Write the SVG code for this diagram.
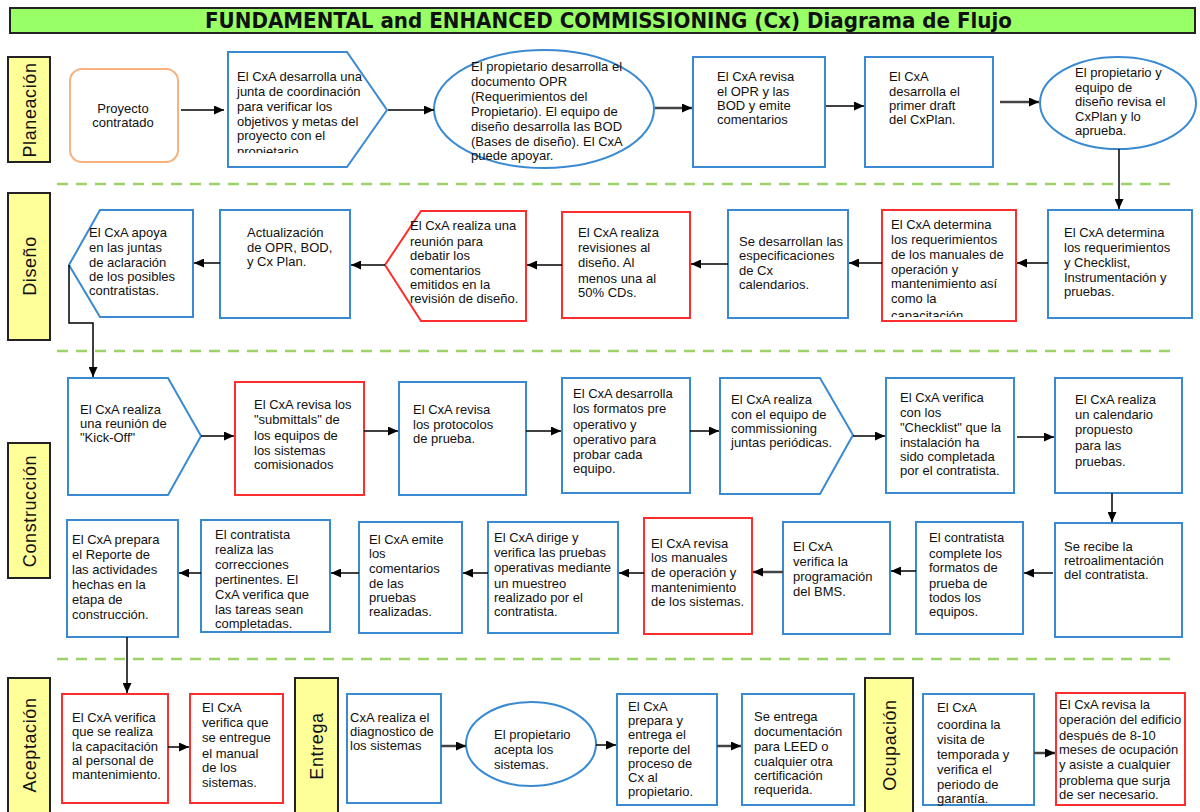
<svg xmlns="http://www.w3.org/2000/svg" width="1200" height="812" viewBox="0 0 1200 812">
<style>
.b{fill:#fff;stroke:#3a8ad2;stroke-width:2}
.r{fill:#fff;stroke:#ff2e2e;stroke-width:2}
.o{fill:#fff;stroke:#f7b27e;stroke-width:2}
.lane{fill:#ffff99;stroke:#222;stroke-width:2}
.lt{font-family:"Liberation Sans",Arial,sans-serif;font-size:18px;fill:#111;text-anchor:middle;letter-spacing:0.6px}
.t{font-family:"Liberation Sans",Arial,sans-serif;font-size:13px;fill:#111}
.c{fill:none;stroke:#000;stroke-width:1.5;marker-end:url(#ah)}
.c2{fill:none;stroke:#444;stroke-width:2.5;marker-end:url(#ah)}
.dash{stroke:#9dd16a;stroke-width:2.5;stroke-dasharray:11 8}
</style>
<defs>
<marker id="ah" markerUnits="userSpaceOnUse" markerWidth="10" markerHeight="9" refX="10" refY="4.5" orient="auto"><path d="M0,0 L10,4.5 L0,9 z" fill="#000"/></marker>
<clipPath id="clip1"><rect x="228" y="52" width="160" height="101"/></clipPath>
<clipPath id="clip2"><rect x="882" y="210" width="134" height="107"/></clipPath>
</defs>
<rect width="1200" height="812" fill="#fff"/>
<g id="title">
<rect x="10" y="8" width="1185" height="25" fill="#99ff66" stroke="#222" stroke-width="2"/>
<text x="205" y="28" font-family="'DejaVu Sans',Tahoma,sans-serif" font-size="21" font-weight="bold" fill="#111" textLength="807" lengthAdjust="spacingAndGlyphs">FUNDAMENTAL and ENHANCED COMMISSIONING (Cx) Diagrama de Flujo</text>
</g>
<g id="separators">
<line class="dash" x1="57" y1="184" x2="1176" y2="184"/>
<line class="dash" x1="57" y1="351" x2="1176" y2="351"/>
<line class="dash" x1="57" y1="659" x2="1176" y2="659"/>
</g>
<g id="lane-planeacion"><rect class="lane" x="8" y="57" width="42" height="105"/><text class="lt" transform="translate(35.5,110) rotate(-90)">Planeación</text></g>
<g id="lane-diseno"><rect class="lane" x="8" y="193" width="42" height="147"/><text class="lt" transform="translate(35.5,266) rotate(-90)">Diseño</text></g>
<g id="lane-construccion"><rect class="lane" x="8" y="443" width="42" height="135"/><text class="lt" transform="translate(35.5,511) rotate(-90)">Construcción</text></g>
<g id="lane-aceptacion"><rect class="lane" x="8" y="678" width="42" height="150"/><text class="lt" transform="translate(35.5,745) rotate(-90)">Aceptación</text></g>
<g id="lane-entrega"><rect class="lane" x="295" y="678" width="43" height="150"/><text class="lt" transform="translate(323,746) rotate(-90)">Entrega</text></g>
<g id="lane-ocupacion"><rect class="lane" x="865" y="678" width="48" height="150"/><text class="lt" transform="translate(895.5,745) rotate(-90)">Ocupación</text></g>

<g id="n1"><rect class="o" x="70" y="69" width="108" height="93" rx="12"/>
<text class="t" text-anchor="middle"><tspan x="123" y="113">Proyecto</tspan><tspan x="123" y="127">contratado</tspan></text></g>
<g id="n2"><polygon class="b" points="228,52 347,52 387,110 347,167 228,167"/>
<text class="t" clip-path="url(#clip1)"><tspan x="237" y="81">El CxA desarrolla una</tspan><tspan x="237" y="96">junta de coordinación</tspan><tspan x="237" y="111">para verificar los</tspan><tspan x="237" y="126">objetivos y metas del</tspan><tspan x="237" y="140">proyecto con el</tspan><tspan x="237" y="156">propietario</tspan></text></g>
<g id="n3"><ellipse class="b" cx="544" cy="109" rx="110" ry="59"/>
<text class="t"><tspan x="471" y="71">El propietario desarrolla el</tspan><tspan x="471" y="86">documento OPR</tspan><tspan x="471" y="101">(Requerimientos  del</tspan><tspan x="471" y="116">Propietario). El equipo de</tspan><tspan x="471" y="131">diseño desarrolla las BOD</tspan><tspan x="471" y="146">(Bases de diseño). El CxA</tspan><tspan x="471" y="160">puede apoyar.</tspan></text></g>
<g id="n4"><rect class="b" x="693" y="57" width="132" height="110"/>
<text class="t"><tspan x="717" y="81">El CxA revisa</tspan><tspan x="717" y="96">el OPR y las</tspan><tspan x="717" y="110">BOD y emite</tspan><tspan x="717" y="124">comentarios</tspan></text></g>
<g id="n5"><rect class="b" x="865" y="57" width="128" height="110"/>
<text class="t"><tspan x="889" y="81">El CxA</tspan><tspan x="889" y="96">desarrolla el</tspan><tspan x="889" y="110">primer draft</tspan><tspan x="889" y="124">del CxPlan.</tspan></text></g>
<g id="n6"><ellipse class="b" cx="1118" cy="103" rx="78" ry="46"/>
<text class="t"><tspan x="1075" y="77">El propietario y</tspan><tspan x="1075" y="92">equipo de</tspan><tspan x="1075" y="106">diseño revisa el</tspan><tspan x="1075" y="121">CxPlan y lo</tspan><tspan x="1075" y="135">aprueba.</tspan></text></g>

<g id="n7"><rect class="b" x="1048" y="210" width="144" height="108"/>
<text class="t"><tspan x="1064" y="237">El CxA determina</tspan><tspan x="1064" y="252">los requerimientos</tspan><tspan x="1064" y="267">y Checklist,</tspan><tspan x="1064" y="282">Instrumentación y</tspan><tspan x="1064" y="296">pruebas.</tspan></text></g>
<g id="n8"><rect class="r" x="882" y="210" width="134" height="111"/>
<text class="t" clip-path="url(#clip2)"><tspan x="891" y="229">El CxA determina</tspan><tspan x="891" y="244">los requerimientos</tspan><tspan x="891" y="259">de los manuales de</tspan><tspan x="891" y="274">operación y</tspan><tspan x="891" y="288">mantenimiento así</tspan><tspan x="891" y="303">como la</tspan><tspan x="891" y="320">capacitación.</tspan></text></g>
<g id="n9"><rect class="b" x="728" y="210" width="120" height="108"/>
<text class="t"><tspan x="739" y="246">Se desarrollan las</tspan><tspan x="739" y="260">especificaciones</tspan><tspan x="739" y="275">de Cx</tspan><tspan x="739" y="289">calendarios.</tspan></text></g>
<g id="n10"><rect class="r" x="562" y="212" width="128" height="106"/>
<text class="t"><tspan x="578" y="237">El CxA realiza</tspan><tspan x="578" y="252">revisiones al</tspan><tspan x="578" y="267">diseño. Al</tspan><tspan x="578" y="283">menos una al</tspan><tspan x="578" y="297">50% CDs.</tspan></text></g>
<g id="n11"><polygon class="r" points="421,211 526,211 526,321 421,321 385,265"/>
<text class="t"><tspan x="410" y="230">El CxA realiza una</tspan><tspan x="410" y="246">reunión para</tspan><tspan x="410" y="260">debatir los</tspan><tspan x="410" y="275">comentarios</tspan><tspan x="410" y="289">emitidos en la</tspan><tspan x="410" y="303">revisión de diseño.</tspan></text></g>
<g id="n12"><rect class="b" x="220" y="210" width="130" height="108"/>
<text class="t"><tspan x="247" y="237">Actualización</tspan><tspan x="247" y="252">de OPR, BOD,</tspan><tspan x="247" y="266">y Cx Plan.</tspan></text></g>
<g id="n13"><polygon class="b" points="100,210 193,210 193,317 100,317 69,265"/>
<text class="t"><tspan x="89" y="237">El CxA apoya</tspan><tspan x="89" y="252">en  las juntas</tspan><tspan x="89" y="267">de aclaración</tspan><tspan x="89" y="281">de  los posibles</tspan><tspan x="89" y="295">contratistas.</tspan></text></g>

<g id="n14"><polygon class="b" points="68,378 168,378 201,436 168,495 68,495"/>
<text class="t"><tspan x="80" y="414">El CxA realiza</tspan><tspan x="80" y="428">una reunión de</tspan><tspan x="80" y="442">"Kick-Off"</tspan></text></g>
<g id="n15"><rect class="r" x="235" y="382" width="129" height="113"/>
<text class="t"><tspan x="254" y="409">El CxA  revisa los</tspan><tspan x="254" y="424">"submittals" de</tspan><tspan x="254" y="440">los equipos de</tspan><tspan x="254" y="455">los sistemas</tspan><tspan x="254" y="469">comisionados</tspan></text></g>
<g id="n16"><rect class="b" x="399" y="382" width="127" height="113"/>
<text class="t"><tspan x="413" y="414">El CxA revisa</tspan><tspan x="413" y="429">los protocolos</tspan><tspan x="413" y="443">de prueba.</tspan></text></g>
<g id="n17"><rect class="b" x="562" y="378" width="128" height="115"/>
<text class="t"><tspan x="573" y="398">El CxA desarrolla</tspan><tspan x="573" y="413">los formatos pre</tspan><tspan x="573" y="429">operativo y</tspan><tspan x="573" y="444">operativo para</tspan><tspan x="573" y="459">probar cada</tspan><tspan x="573" y="473">equipo.</tspan></text></g>
<g id="n18"><polygon class="b" points="720,378 820,378 853,435 820,494 720,494"/>
<text class="t"><tspan x="731" y="404">El CxA realiza</tspan><tspan x="731" y="419">con el equipo  de</tspan><tspan x="731" y="433">commissioning</tspan><tspan x="731" y="447">juntas periódicas.</tspan></text></g>
<g id="n19"><rect class="b" x="886" y="378" width="128" height="115"/>
<text class="t"><tspan x="900" y="402">El CxA verifica</tspan><tspan x="900" y="417">con los</tspan><tspan x="900" y="432">"Checklist" que la</tspan><tspan x="900" y="447">instalación ha</tspan><tspan x="900" y="461">sido completada</tspan><tspan x="900" y="475">por el contratista.</tspan></text></g>
<g id="n20"><rect class="b" x="1055" y="378" width="127" height="115"/>
<text class="t"><tspan x="1075" y="404">El CxA realiza</tspan><tspan x="1075" y="419">un calendario</tspan><tspan x="1075" y="434">propuesto</tspan><tspan x="1075" y="450">para las</tspan><tspan x="1075" y="466">pruebas.</tspan></text></g>

<g id="n21"><rect class="b" x="1055" y="523" width="127" height="114"/>
<text class="t"><tspan x="1064" y="551">Se recibe la</tspan><tspan x="1064" y="565">retroalimentación</tspan><tspan x="1064" y="579">del contratista.</tspan></text></g>
<g id="n22"><rect class="b" x="916" y="522" width="107" height="112"/>
<text class="t"><tspan x="929" y="542">El contratista</tspan><tspan x="929" y="558">complete los</tspan><tspan x="929" y="572">formatos de</tspan><tspan x="929" y="588">prueba de</tspan><tspan x="929" y="602">todos los</tspan><tspan x="929" y="616">equipos.</tspan></text></g>
<g id="n23"><rect class="b" x="783" y="522" width="107" height="112"/>
<text class="t"><tspan x="793" y="551">El CxA</tspan><tspan x="793" y="566">verifica la</tspan><tspan x="793" y="581">programación</tspan><tspan x="793" y="596">del BMS.</tspan></text></g>
<g id="n24"><rect class="r" x="644" y="518" width="108" height="116"/>
<text class="t"><tspan x="651" y="548">El CxA revisa</tspan><tspan x="651" y="562">los manuales</tspan><tspan x="651" y="577">de operación y</tspan><tspan x="651" y="592">mantenimiento</tspan><tspan x="651" y="606">de los sistemas.</tspan></text></g>
<g id="n25"><rect class="b" x="488" y="522" width="130" height="111"/>
<text class="t"><tspan x="494" y="542">El CxA dirige y</tspan><tspan x="494" y="557">verifica las pruebas</tspan><tspan x="494" y="572">operativas mediante</tspan><tspan x="494" y="588">un muestreo</tspan><tspan x="494" y="602">realizado por el</tspan><tspan x="494" y="616">contratista.</tspan></text></g>
<g id="n26"><rect class="b" x="359" y="522" width="103" height="111"/>
<text class="t"><tspan x="369" y="544">El CxA emite</tspan><tspan x="369" y="558">los</tspan><tspan x="369" y="573">comentarios</tspan><tspan x="369" y="588">de las</tspan><tspan x="369" y="602">pruebas</tspan><tspan x="369" y="616">realizadas.</tspan></text></g>
<g id="n27"><rect class="b" x="201" y="520" width="129" height="112"/>
<text class="t"><tspan x="215" y="539">El contratista</tspan><tspan x="215" y="554">realiza las</tspan><tspan x="215" y="569">correcciones</tspan><tspan x="215" y="584">pertinentes. El</tspan><tspan x="215" y="599">CxA verifica que</tspan><tspan x="215" y="614">las tareas sean</tspan><tspan x="215" y="628">completadas.</tspan></text></g>
<g id="n28"><rect class="b" x="67" y="520" width="111" height="117"/>
<text class="t"><tspan x="72" y="544">El CxA prepara</tspan><tspan x="72" y="559">el Reporte de</tspan><tspan x="72" y="574">las actividades</tspan><tspan x="72" y="589">hechas en la</tspan><tspan x="72" y="604">etapa de</tspan><tspan x="72" y="619">construcción.</tspan></text></g>

<g id="n29"><rect class="r" x="62" y="694" width="106" height="109"/>
<text class="t"><tspan x="72" y="722">El CxA verifica</tspan><tspan x="72" y="736">que se realiza</tspan><tspan x="72" y="751">la capacitación</tspan><tspan x="72" y="765">al personal de</tspan><tspan x="72" y="779">mantenimiento.</tspan></text></g>
<g id="n30"><rect class="r" x="190" y="694" width="93" height="109"/>
<text class="t"><tspan x="202" y="712">El CxA</tspan><tspan x="202" y="727">verifica que</tspan><tspan x="202" y="742">se entregue</tspan><tspan x="202" y="758">el manual</tspan><tspan x="202" y="772">de los</tspan><tspan x="202" y="787">sistemas.</tspan></text></g>
<g id="n31"><rect class="b" x="347" y="694" width="94" height="109"/>
<text class="t"><tspan x="350" y="722">CxA realiza el</tspan><tspan x="350" y="736">diagnostico de</tspan><tspan x="350" y="750">los sistemas</tspan></text></g>
<g id="n32"><ellipse class="b" cx="531" cy="744" rx="65" ry="42"/>
<text class="t"><tspan x="494" y="739">El propietario</tspan><tspan x="494" y="754">acepta los</tspan><tspan x="494" y="769">sistemas.</tspan></text></g>
<g id="n33"><rect class="b" x="617" y="694" width="100" height="111"/>
<text class="t"><tspan x="628" y="711">El CxA</tspan><tspan x="628" y="725">prepara y</tspan><tspan x="628" y="739">entrega el</tspan><tspan x="628" y="754">reporte del</tspan><tspan x="628" y="768">proceso de</tspan><tspan x="628" y="782">Cx al</tspan><tspan x="628" y="796">propietario.</tspan></text></g>
<g id="n34"><rect class="b" x="742" y="694" width="112" height="111"/>
<text class="t"><tspan x="754" y="721">Se entrega</tspan><tspan x="754" y="736">documentación</tspan><tspan x="754" y="751">para LEED o</tspan><tspan x="754" y="766">cualquier otra</tspan><tspan x="754" y="780">certificación</tspan><tspan x="754" y="794">requerida.</tspan></text></g>
<g id="n35"><rect class="b" x="923" y="694" width="111" height="111"/>
<text class="t"><tspan x="937" y="712">El CxA</tspan><tspan x="937" y="729">coordina la</tspan><tspan x="937" y="744">visita de</tspan><tspan x="937" y="759">temporada y</tspan><tspan x="937" y="774">verifica el</tspan><tspan x="937" y="789">periodo de</tspan><tspan x="937" y="803">garantía.</tspan></text></g>
<g id="n36"><rect class="r" x="1056" y="693" width="129" height="112"/>
<text class="t"><tspan x="1059" y="709">El CxA revisa  la</tspan><tspan x="1059" y="724">operación del edificio</tspan><tspan x="1059" y="740">después de 8-10</tspan><tspan x="1059" y="754">meses de ocupación</tspan><tspan x="1059" y="769">y asiste a cualquier</tspan><tspan x="1059" y="785">problema que surja</tspan><tspan x="1059" y="799">de ser necesario.</tspan></text></g>

<g id="connectors">
<line class="c" x1="181" y1="110" x2="224" y2="110"/>
<line class="c" x1="388" y1="110" x2="434" y2="110"/>
<line class="c2" x1="655" y1="108" x2="692" y2="108"/>
<line class="c" x1="826" y1="106" x2="864" y2="106"/>
<line class="c2" x1="1000" y1="102" x2="1039" y2="102"/>
<line class="c" x1="1119" y1="149" x2="1119" y2="209"/>
<line class="c" x1="1048" y1="263" x2="1017" y2="263"/>
<line class="c" x1="882" y1="263" x2="849" y2="263"/>
<line class="c" x1="728" y1="264" x2="691" y2="264"/>
<line class="c" x1="562" y1="265" x2="527" y2="265"/>
<line class="c" x1="385" y1="265" x2="351" y2="265"/>
<line class="c" x1="220" y1="263" x2="194" y2="263"/>
<polyline class="c" points="69,265 69,323 93,323 93,377"/>
<line class="c" x1="201" y1="436" x2="234" y2="436"/>
<line class="c" x1="364" y1="431" x2="398" y2="431"/>
<line class="c" x1="526" y1="431" x2="561" y2="431"/>
<line class="c" x1="690" y1="431" x2="719" y2="431"/>
<line class="c" x1="853" y1="436" x2="885" y2="436"/>
<line class="c" x1="1017" y1="437" x2="1054" y2="437"/>
<line class="c" x1="1112" y1="493" x2="1112" y2="522"/>
<line class="c" x1="1053" y1="573" x2="1024" y2="573"/>
<line class="c" x1="916" y1="571" x2="891" y2="571"/>
<line class="c2" x1="783" y1="572" x2="753" y2="572"/>
<line class="c" x1="644" y1="573" x2="619" y2="573"/>
<line class="c" x1="488" y1="573" x2="463" y2="573"/>
<line class="c" x1="359" y1="573" x2="331" y2="573"/>
<line class="c" x1="201" y1="573" x2="179" y2="573"/>
<line class="c" x1="127" y1="637" x2="127" y2="693"/>
<line class="c" x1="168" y1="747" x2="189" y2="747"/>
<line class="c2" x1="441" y1="746" x2="466" y2="746"/>
<line class="c" x1="596" y1="745" x2="616" y2="745"/>
<line class="c2" x1="717" y1="746" x2="741" y2="746"/>
<line class="c2" x1="1034" y1="753" x2="1055" y2="753"/>
</g>
</svg>
